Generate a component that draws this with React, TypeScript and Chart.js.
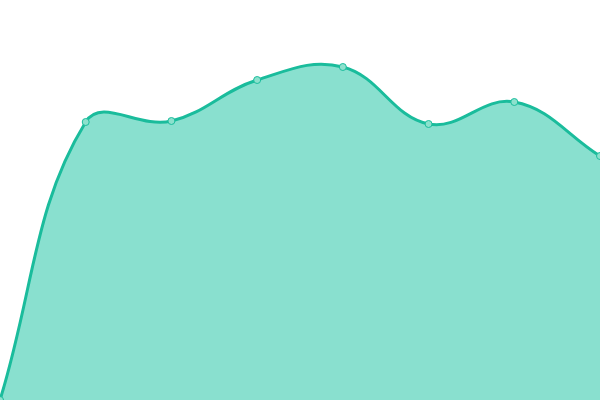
import { useEffect, useRef } from 'react';
import { Chart, ChartConfiguration, registerables } from 'chart.js';

Chart.register(...registerables);

const labels = ['1', '2', '3', '4', '5', '6', '7', '8'];
const values = [0, 69.5, 69.75, 80, 83.25, 69, 74.5, 61];

export default function App() {
  const canvasRef = useRef<HTMLCanvasElement>(null);

  useEffect(() => {
    document.body.style.margin = '0';
    if (!canvasRef.current) return;
    const ctx = canvasRef.current.getContext('2d');
    if (!ctx) return;

    const config: ChartConfiguration = {
      type: 'line',
      data: {
        labels,
        datasets: [
          {
            data: values,
            borderColor: '#1abc9c',
            backgroundColor: 'rgba(20, 194, 160, 0.5)',
            borderWidth: 3,
            fill: true,
            tension: 0.4,
            pointRadius: 3.5,
            pointBorderWidth: 1,
            pointBackgroundColor: 'rgba(140, 225, 205, 1)',
            pointBorderColor: '#1abc9c'
          }
        ]
      },
      options: {
        animation: false,
        responsive: false,
        layout: { padding: 0, autoPadding: false },
        plugins: {
          legend: { display: false },
          tooltip: { enabled: false }
        },
        scales: {
          x: { display: false },
          y: { display: false, min: 0, max: 100 }
        }
      }
    };

    const chart = new Chart(ctx, config);
    return () => chart.destroy();
  }, []);

  return (
    <div style={{ width: 600, height: 400 }}>
      <canvas ref={canvasRef} width={600} height={400}></canvas>
    </div>
  );
}
